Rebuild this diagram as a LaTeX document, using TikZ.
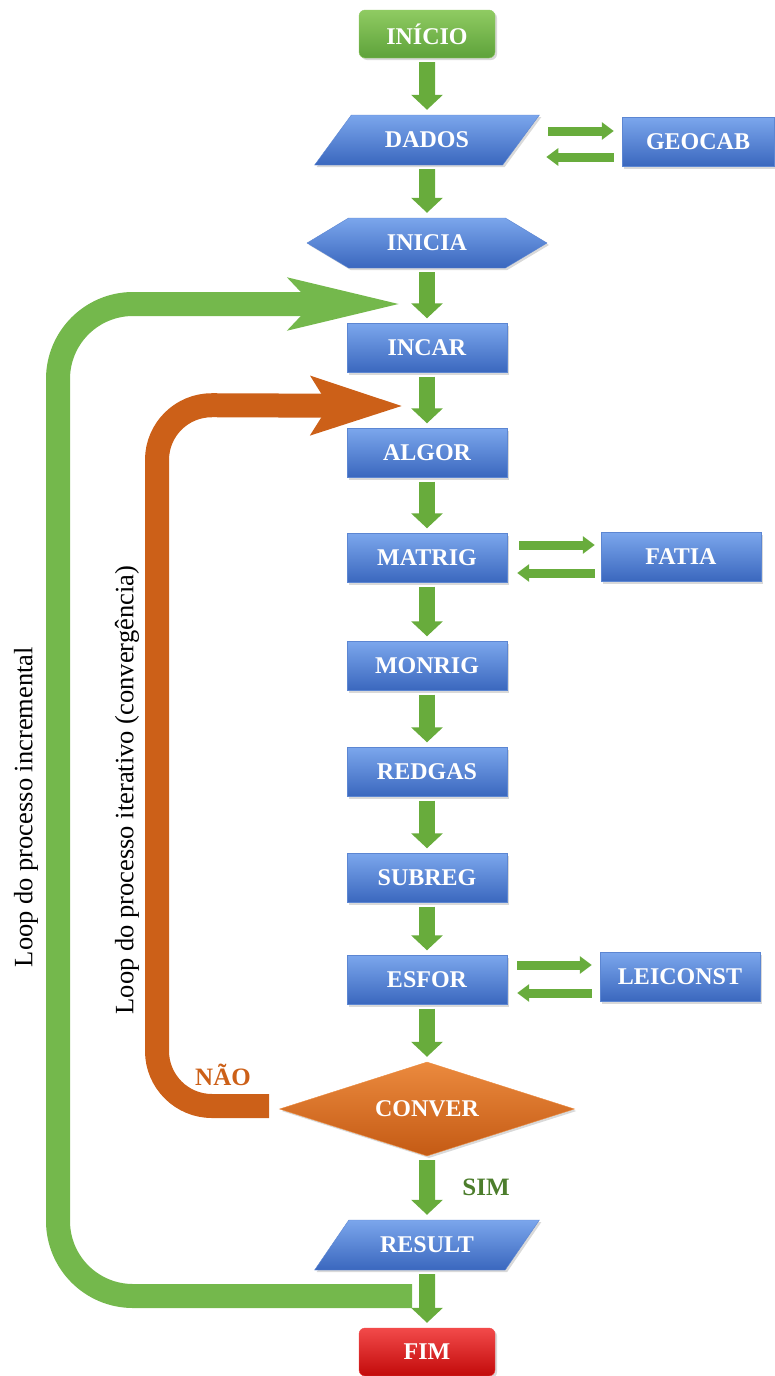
\documentclass[tikz,border=0pt]{standalone}
\usepackage{fontspec}
\setmainfont{Liberation Serif}
\usetikzlibrary{positioning, shapes.geometric, shapes.symbols, arrows.meta, calc, shadows}
\definecolor{bluetop}{HTML}{7BA6EC}
\definecolor{bluebot}{HTML}{3A67BE}
\definecolor{blueline}{HTML}{5C86D2}
\definecolor{grntop}{HTML}{8FCB62}
\definecolor{grnbot}{HTML}{5EA23A}
\definecolor{flowgrn}{HTML}{68AC3C}
\definecolor{loopgrn}{HTML}{74B84C}
\definecolor{looporg}{HTML}{CC6018}
\definecolor{orgtop}{HTML}{EB8A3E}
\definecolor{orgbot}{HTML}{C45A14}
\definecolor{redtop}{HTML}{F24A4A}
\definecolor{redbot}{HTML}{C20A0A}
\definecolor{simgrn}{HTML}{4C7D2C}

\begin{document}
\begin{tikzpicture}[x=1pt, y=-1pt,
  every node/.style={font=\bfseries\fontsize{24}{28}\selectfont, text=white},
  shade/.style={drop shadow={shadow xshift=2pt, shadow yshift=-2pt, opacity=.3}},
  blockbox/.style={rectangle, shade, top color=bluetop, bottom color=bluebot, draw=blueline, minimum width=160pt, minimum height=49pt},
  iobox/.style={trapezium, trapezium left angle=46, trapezium right angle=134, trapezium stretches=true, shade, top color=bluetop, bottom color=bluebot, draw=blueline, minimum width=225pt, minimum height=50pt},
  prepbox/.style={signal, signal to=west and east, signal pointer angle=62, shade, top color=bluetop, bottom color=bluebot, draw=blueline, minimum width=240pt, minimum height=50pt},
  startbox/.style={rectangle, rounded corners=6pt, shade, top color=grntop, bottom color=grnbot, draw=grntop, minimum width=136pt, minimum height=48pt},
  endbox/.style={rectangle, rounded corners=6pt, shade, top color=redtop, bottom color=redbot, draw=redtop, minimum width=136pt, minimum height=48pt},
  decisionbox/.style={diamond, aspect=3.14, shade, top color=orgtop, bottom color=orgbot, draw=orgtop, minimum width=295pt, minimum height=94pt, inner sep=0pt},
  flow/.style={line width=16pt, flowgrn, -{Triangle[length=15pt, width=31pt]}, shorten <=4pt, shorten >=5pt},
  sidearrow/.style={line width=9pt, flowgrn, -{Triangle[length=12pt, width=17pt]}},
  loopband/.style={line width=24pt, line join=round},
  looptext/.style={rotate=90, text=black, font=\fontsize{26.5}{30}\selectfont}
]
  \useasboundingbox (0,0) rectangle (774,1376);

  % loops
  \coordinate (incA) at (412,1296);
  \coordinate (incC) at (58,304);
  \coordinate (incB) at (403,304);
  \coordinate (itA) at (269,1106);
  \coordinate (itC) at (157,405);
  \coordinate (itB) at (403,406);
  \draw[loopband, loopgrn, rounded corners=75pt, -{Stealth[length=110pt, width=48pt, inset=20pt]}] (incA) -| (incC) -- (incB);
  \draw[loopband, looporg, rounded corners=55pt, -{Stealth[length=90pt, width=56pt, inset=16pt]}] (itA) -| (itC) -- (itB);

  \node[looptext] (lblinc) at (26,807) {Loop do processo incremental};
  \node[looptext] (lblit) at (127,790) {Loop do processo iterativo (convergência)};

  % main column
  \node[startbox] (inicio) at (427,34) {INÍCIO};
  \node[iobox] (dados) at (427,140) {DADOS};
  \node[blockbox, minimum width=152pt] (geocab) at (698,142) {GEOCAB};
  \node[prepbox] (inicia) at (427,243) {INICIA};
  \node[blockbox] (incar) at (427,348) {INCAR};
  \node[blockbox] (algor) at (427,453) {ALGOR};
  \node[blockbox] (matrig) at (427,558) {MATRIG};
  \node[blockbox] (fatia) at (681,557) {FATIA};
  \node[blockbox] (monrig) at (427,666) {MONRIG};
  \node[blockbox] (redgas) at (427,772) {REDGAS};
  \node[blockbox] (subreg) at (427,878) {SUBREG};
  \node[blockbox] (esfor) at (427,980) {ESFOR};
  \node[blockbox] (leiconst) at (680,977) {LEICONST};
  \node[decisionbox] (conver) at (427,1109) {CONVER};
  \node[iobox] (result) at (427,1245) {RESULT};
  \node[endbox] (fim) at (427,1352) {FIM};

  \node[text=looporg, font=\bfseries\fontsize{25}{30}\selectfont] (nao) at (223,1075) {NÃO};
  \node[text=simgrn, font=\bfseries\fontsize{25}{30}\selectfont] (sim) at (486,1187) {SIM};

  \foreach \a/\b in {inicio/dados, dados/inicia, inicia/incar, incar/algor, algor/matrig, matrig/monrig,
                     monrig/redgas, redgas/subreg, subreg/esfor, esfor/conver, conver/result, result/fim} {
    \draw[flow] (\a.south) -- (\b.north);
  }

  \draw[sidearrow, shorten <=27pt, shorten >=8pt] ([yshift=11pt]geocab.west -| dados.east) -- ([yshift=11pt]geocab.west);
  \draw[sidearrow, shorten <=8pt, shorten >=25pt] ([yshift=-15pt]geocab.west) -- ([yshift=-15pt]geocab.west -| dados.east);
  \draw[sidearrow, shorten <=12pt, shorten >=6pt] ([yshift=12pt]fatia.west -| matrig.east) -- ([yshift=12pt]fatia.west);
  \draw[sidearrow, shorten <=6pt, shorten >=10pt] ([yshift=-16pt]fatia.west) -- ([yshift=-16pt]fatia.west -| matrig.east);
  \draw[sidearrow, shorten <=10pt, shorten >=8pt] ([yshift=12pt]leiconst.west -| esfor.east) -- ([yshift=12pt]leiconst.west);
  \draw[sidearrow, shorten <=8pt, shorten >=10pt] ([yshift=-16pt]leiconst.west) -- ([yshift=-16pt]leiconst.west -| esfor.east);
\end{tikzpicture}
\end{document}
